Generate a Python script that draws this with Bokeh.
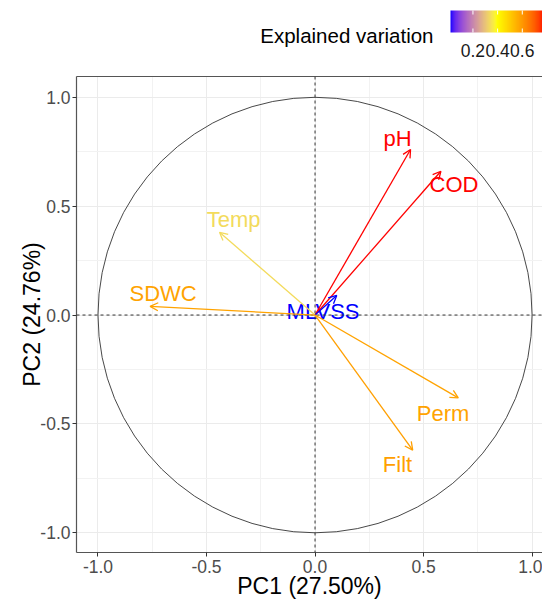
import numpy as np
from bokeh.plotting import figure
from bokeh.models import (ColumnDataSource, Range1d, FixedTicker, LinearAxis, Arrow, OpenHead,
                          Span, LinearColorMapper, Label, PrintfTickFormatter)
from bokeh.layouts import column
from bokeh.transform import transform
from bokeh.core.properties import value
from bokeh.embed import file_html
from bokeh.resources import INLINE

# ---- data ----
variables = ["pH", "COD", "Temp", "SDWC", "MLVSS", "Perm", "Filt"]
pc1 = [0.44, 0.58, -0.44, -0.76, 0.10, 0.66, 0.45]
pc2 = [0.76, 0.66, 0.38, 0.04, 0.09, -0.38, -0.62]
label_x = [0.38, 0.64, -0.375, -0.70, 0.037, 0.59, 0.38]
label_y = [0.81, 0.60, 0.44, 0.10, 0.017, -0.45, -0.685]
axis_ticks = [-1.0, -0.5, 0.0, 0.5, 1.0]
minor_ticks = [-0.75, -0.25, 0.25, 0.75]
legend_ticks = [0.2, 0.4, 0.6]
pc1_pct = 27.50
pc2_pct = 24.76
gradient_stops = ["#0000FF", "#FFFF00", "#FF0000"]

cos2 = [a * a + b * b for a, b in zip(pc1, pc2)]

# ---- Lab-space gradient (like ggplot2's gradientn) ----
XN, YN, ZN = 0.95047, 1.0, 1.08883


def hex_to_lab(h):
    rgb = [int(h[i:i + 2], 16) / 255 for i in (1, 3, 5)]
    r, g, b = [c / 12.92 if c <= 0.04045 else ((c + 0.055) / 1.055) ** 2.4 for c in rgb]
    X = 0.4124564 * r + 0.3575761 * g + 0.1804375 * b
    Y = 0.2126729 * r + 0.7151522 * g + 0.0721750 * b
    Z = 0.0193339 * r + 0.1191920 * g + 0.9503041 * b

    def f(t):
        return t ** (1 / 3) if t > 216 / 24389 else (24389 / 27 * t + 16) / 116

    fx, fy, fz = f(X / XN), f(Y / YN), f(Z / ZN)
    return 116 * fy - 16, 500 * (fx - fy), 200 * (fy - fz)


def lab_to_hex(L, a, b):
    fy = (L + 16) / 116
    fx = fy + a / 500
    fz = fy - b / 200

    def finv(t):
        return t ** 3 if t ** 3 > 216 / 24389 else (116 * t - 16) / (24389 / 27)

    X, Y, Z = finv(fx) * XN, finv(fy) * YN, finv(fz) * ZN
    r = 3.2404542 * X - 1.5371385 * Y - 0.4985314 * Z
    g = -0.9692660 * X + 1.8760108 * Y + 0.0415560 * Z
    bb = 0.0556434 * X - 0.2040259 * Y + 1.0572252 * Z
    out = []
    for c in (r, g, bb):
        c = 12.92 * c if c <= 0.0031308 else 1.055 * c ** (1 / 2.4) - 0.055
        out.append(int(round(min(max(c, 0), 1) * 255)))
    return "#%02x%02x%02x" % tuple(out)


labs = [hex_to_lab(c) for c in gradient_stops]
palette = []
n = 256
for i in range(n):
    t = i / (n - 1) * (len(labs) - 1)
    k = min(int(t), len(labs) - 2)
    u = t - k
    L = labs[k][0] + (labs[k + 1][0] - labs[k][0]) * u
    A = labs[k][1] + (labs[k + 1][1] - labs[k][1]) * u
    B = labs[k][2] + (labs[k + 1][2] - labs[k][2]) * u
    palette.append(lab_to_hex(L, A, B))

lo, hi = min(cos2), max(cos2)
mapper = LinearColorMapper(palette=palette, low=lo, high=hi)
cmap = transform("cos2", mapper)

src = ColumnDataSource(dict(name=variables, pc1=pc1, pc2=pc2, lx=label_x, ly=label_y, cos2=cos2))

FONT = "Liberation Sans"
LEFT = 76

# ---- main plot ----
p = figure(width=542, height=541, x_range=Range1d(-1.099, 1.048), y_range=Range1d(-1.09, 1.095),
           output_backend="svg", toolbar_location=None,
           min_border_left=LEFT, min_border_right=0, min_border_top=16, min_border_bottom=48,
           x_axis_label=f"PC1 ({pc1_pct:.2f}%)", y_axis_label=f"PC2 ({pc2_pct:.2f}%)",
           outline_line_color=None, background_fill_color="white")

ticker = FixedTicker(ticks=axis_ticks, minor_ticks=minor_ticks)
for ax in (p.xaxis[0], p.yaxis[0]):
    ax.ticker = ticker
    ax.formatter = PrintfTickFormatter(format="%.1f")
    ax.major_label_text_font = FONT
    ax.major_label_text_font_size = "17.5px"
    ax.major_label_text_color = "#4d4d4d"
    ax.axis_label_text_font = FONT
    ax.axis_label_text_font_size = "23px"
    ax.axis_label_text_font_style = "normal"
    ax.axis_label_text_color = "black"
    ax.axis_line_color = "#555555"
    ax.axis_line_width = 1.2
    ax.major_tick_line_color = "#333333"
    ax.major_tick_in = 0
    ax.major_tick_out = 4
    ax.minor_tick_line_color = None
    ax.major_label_standoff = 2
p.xaxis[0].axis_label_standoff = -3
p.xaxis[0].major_label_standoff = 3
p.yaxis[0].axis_label_standoff = -8

top_axis = LinearAxis(ticker=FixedTicker(ticks=[]), axis_line_color="#555555", axis_line_width=1.2,
                      major_label_text_font_size="0px", major_tick_line_color=None,
                      minor_tick_line_color=None)
p.add_layout(top_axis, "above")

for g in (p.xgrid[0], p.ygrid[0]):
    g.ticker = ticker
    g.grid_line_color = "#ebebeb"
    g.grid_line_width = 1
    g.minor_grid_line_color = "#f2f2f2"
    g.minor_grid_line_width = 1

p.ellipse(x=0, y=0, width=2, height=2, fill_color=None, line_color="#333333", line_width=0.9)

p.add_layout(Span(location=0, dimension="height", line_dash="3 3", line_color="#333333", line_width=1))
p.add_layout(Span(location=0, dimension="width", line_dash="3 3", line_color="#333333", line_width=1))

p.add_layout(Arrow(end=OpenHead(size=8, line_color=cmap, line_width=1.3),
                   x_start=0, y_start=0, x_end="pc1", y_end="pc2",
                   line_color=cmap, line_width=1.3, source=src))

p.text(x="lx", y="ly", text="name", text_color=cmap, text_font=value(FONT), text_font_size="22px",
       text_align="center", text_baseline="middle", source=src)

# ---- legend strip (x axis in cos2 units, y in pixels from bottom) ----
bar_px_left, bar_px_len = 450.0, 93.0
units_per_px = (hi - lo) / bar_px_len
lg = figure(width=542, height=60,
            x_range=Range1d(lo - (bar_px_left - LEFT) * units_per_px, lo + (542 - bar_px_left) * units_per_px),
            y_range=Range1d(0, 60),
            x_axis_type=None, y_axis_type=None, output_backend="svg", toolbar_location=None,
            min_border_left=LEFT, min_border_right=0, min_border_top=0, min_border_bottom=0,
            outline_line_color=None)
lg.grid.visible = False
lg.image(image=[np.linspace(lo, hi, 256)[None, :]], x=lo, y=28, dw=hi - lo, dh=22,
         color_mapper=mapper)
lg.segment(x0=legend_ticks, x1=legend_ticks, y0=[28] * 3, y1=[32] * 3, line_color="white", line_width=1)
lg.segment(x0=legend_ticks, x1=legend_ticks, y0=[46] * 3, y1=[50] * 3, line_color="white", line_width=1)
lg.text(x=legend_ticks, y=[10.5] * 3, text=[f"{t:.1f}" for t in legend_ticks], text_align="center",
        text_baseline="middle", text_font=value(FONT), text_font_size="17.5px", text_color="#1a1a1a")
lg.add_layout(Label(x=433 - LEFT, y=25, x_units="screen", text="Explained variation", text_align="right",
                    text_baseline="middle", text_font=FONT, text_font_size="20.5px",
                    text_color="black"))

layout = column(lg, p, spacing=0)
open("out.html", "w").write(file_html(layout, INLINE))
